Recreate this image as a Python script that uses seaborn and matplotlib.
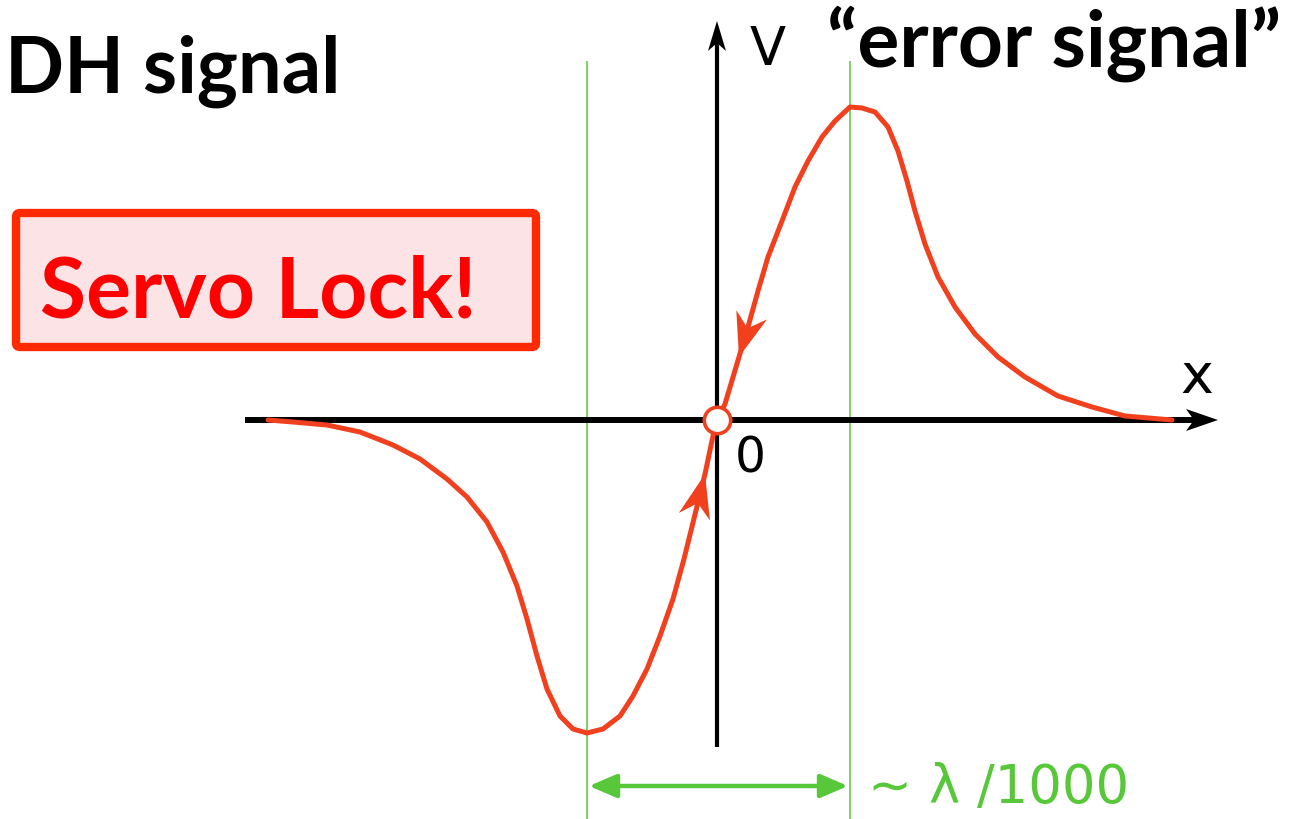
import numpy as np
import pandas as pd
import matplotlib.pyplot as plt
import seaborn as sns
from matplotlib.patches import Polygon, FancyBboxPatch

# error signal, origin = lock point, y up (units ~ pixels)
curve_x = [-449, -424, -390, -357, -324, -297, -270, -250, -230, -214, -200, -190, -180,
           -170, -157, -144, -130, -114, -97, -84, -70, -57, -44, -33, -12, -4, 0, 8,
           22, 31, 41, 51, 65, 78, 91, 105, 118, 133, 145, 158, 171, 181, 190, 198,
           208, 221, 238, 258, 281, 308, 341, 375, 408, 455]
curve_y = [0, -2, -5, -12, -25, -39, -59, -77, -102, -132, -166, -199, -236,
           -269, -296, -309, -313, -309, -296, -276, -249, -216, -179, -139, -54, -16, 0, 16,
           63, 93, 129, 163, 199, 233, 259, 283, 299, 313, 312, 308, 293, 269, 239, 209,
           176, 143, 113, 86, 63, 43, 24, 13, 4, 0]

# arrows along the curve: (index of tip point, neighbour it comes from)
arrow_tips = [24, 28]
arrow_from = [23, 29]

title_left = "DH signal"
title_right = "\u201cerror signal\u201d"
lock_text = "Servo Lock!"
axis_x_label = "x"
axis_y_label = "V"
origin_label = "0"
scale_label = "\u223c \u03bb /1000"

RED = "#f0401e"
GREEN = "#58c83a"

df = pd.DataFrame({"x": curve_x, "y": curve_y})

sns.set_theme(style="white")
plt.rcParams["font.family"] = ["DejaVu Sans"]
plt.rcParams["text.color"] = "black"

fig = plt.figure(figsize=(13.03, 8.2), dpi=100)
ax = fig.add_axes([0, 0, 1, 1])
ax.set_xlim(-717, 586)
ax.set_ylim(-399, 421)
ax.set_aspect("equal")
ax.axis("off")


def head(tip, d, length, width, notch, color, z):
    d = np.asarray(d, float)
    d = d / np.linalg.norm(d)
    n = np.array([d[1], -d[0]])
    tip = np.asarray(tip, float)
    back = tip - length * d
    pts = [tip, back + width * n, tip - notch * d, back - width * n]
    ax.add_patch(Polygon(pts, closed=True, color=color, lw=0, zorder=z))


# axes with arrows
ax.plot([-472, 480], [0, 0], color="black", lw=4.3, solid_capstyle="butt", zorder=2)
head((501, 0), (1, 0), 32, 11, 24, "black", 2)
ax.plot([0, 0], [-327, 380], color="black", lw=3.0, solid_capstyle="butt", zorder=2)
head((0, 399), (0, 1), 30, 9, 22, "black", 2)

# curve
sns.lineplot(data=df, x="x", y="y", sort=False, estimator=None, color=RED,
             lw=3.6, solid_joinstyle="round", ax=ax, zorder=3)
ax.set_xlim(-717, 586)
ax.set_ylim(-399, 421)

for i, j in zip(arrow_tips, arrow_from):
    tip = (curve_x[i], curve_y[i])
    d = (curve_x[i] - curve_x[j], curve_y[i] - curve_y[j])
    head(tip, d, 44, 16, 30, RED, 4)

ax.plot(0, 0, marker="o", ms=19, mfc="white", mec=RED, mew=2.6, zorder=5)

# green guides at trough and peak
x_lo = curve_x[int(np.argmin(curve_y))]
x_hi = curve_x[int(np.argmax(curve_y))]
ax.vlines([x_lo, x_hi], -399, 359, color=GREEN, lw=1.1, zorder=1)
ax.annotate("", xy=(x_lo + 2, -366), xytext=(x_hi - 2, -366),
            arrowprops=dict(arrowstyle="<|-|>,head_length=1.4,head_width=0.6",
                            color=GREEN, lw=3.2, shrinkA=0, shrinkB=0))
ax.text(151, -382, scale_label, color=GREEN, fontsize=38, va="baseline", ha="left")

# labels
ax.text(33, 356, axis_y_label, fontsize=38, color="black", va="baseline", ha="left")
ax.text(463, 28, axis_x_label, fontsize=40, color="black", va="baseline", ha="left")
ax.text(18, -52, origin_label, fontsize=35, color="black", va="baseline", ha="left")

ax.text(-712, 328, title_left, fontsize=56, fontweight="bold", family="Lato",
        color="black", va="baseline", ha="left")
ax.text(110, 354, title_right, fontsize=56.5, fontweight="bold", family="Lato",
        color="black", va="baseline", ha="left")

box = FancyBboxPatch((-701, 73), 520, 134, boxstyle="round,pad=0,rounding_size=4",
                     fc="#fce4e6", ec="#ff2a00", lw=6, zorder=1)
ax.add_patch(box)
ax.text(-677, 103, lock_text, color="#ff0000", fontsize=60.5, fontweight="bold",
        family="Lato", va="baseline", ha="left", zorder=2)

fig.savefig("out.png", dpi=100)
